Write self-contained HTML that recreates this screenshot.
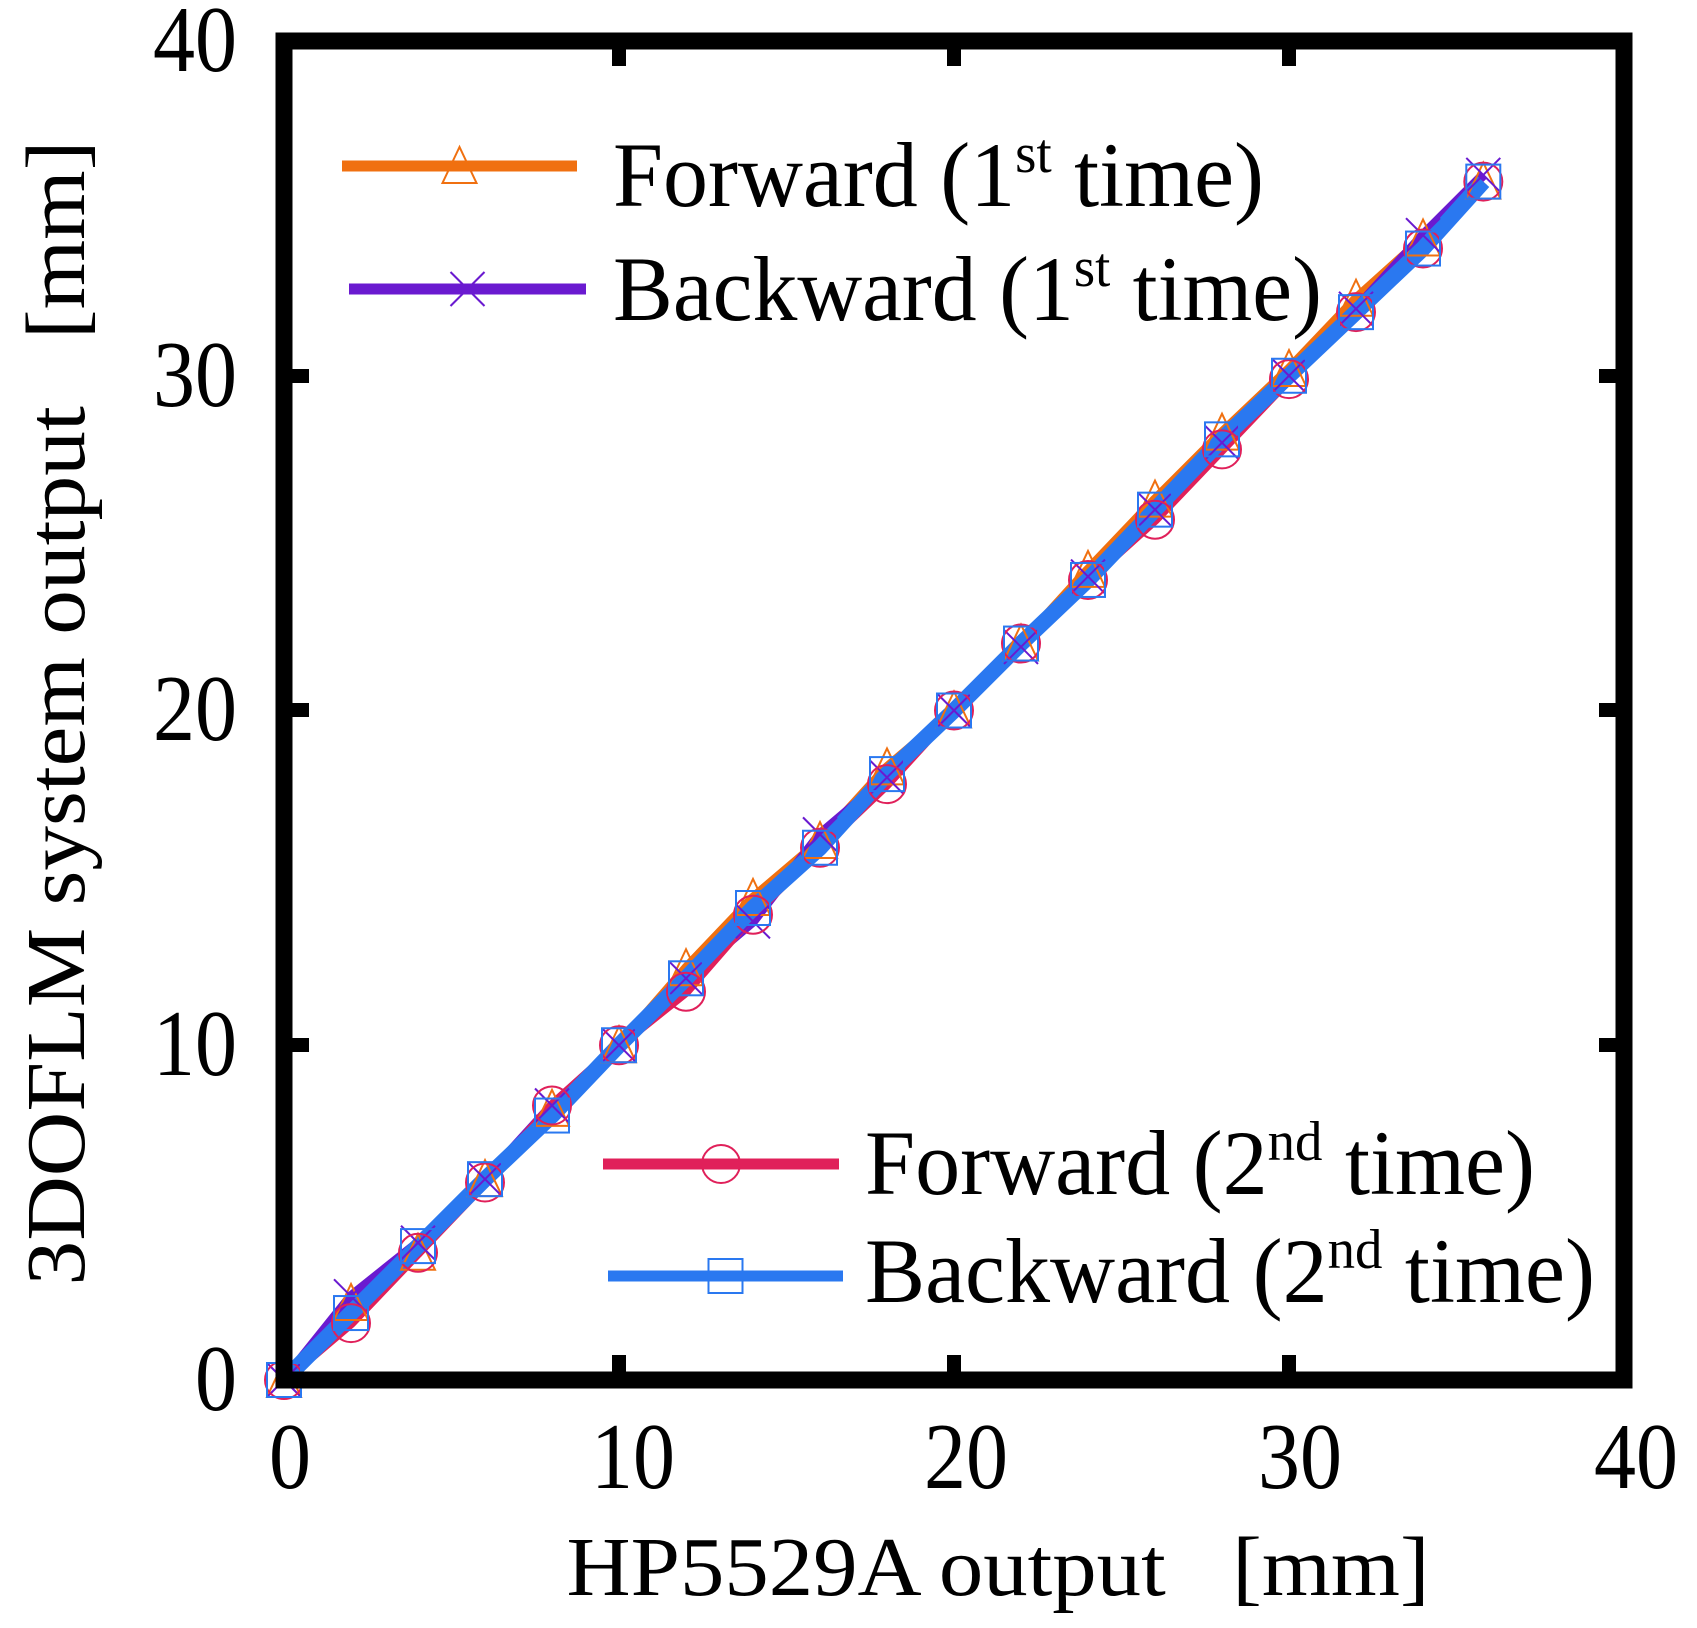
<!DOCTYPE html>
<html><head><meta charset="utf-8"><style>
html,body{margin:0;padding:0;background:#fff;}
svg{display:block;font-family:"Liberation Serif",serif;}
</style></head><body>
<svg id="s" width="1697" height="1628" viewBox="0 0 1697 1628" xmlns="http://www.w3.org/2000/svg">
<g id="data"></g>
<rect x="284" y="41" width="1340" height="1339" fill="none" stroke="#000" stroke-width="17"/>
<g stroke="#000" stroke-width="14">
<line x1="619" y1="1380" x2="619" y2="1355"/><line x1="954" y1="1380" x2="954" y2="1355"/><line x1="1289" y1="1380" x2="1289" y2="1355"/>
<line x1="619" y1="41" x2="619" y2="66"/><line x1="954" y1="41" x2="954" y2="66"/><line x1="1289" y1="41" x2="1289" y2="66"/>
<line x1="284" y1="1045" x2="309" y2="1045"/><line x1="284" y1="710" x2="309" y2="710"/><line x1="284" y1="376" x2="309" y2="376"/>
<line x1="1624" y1="1045" x2="1599" y2="1045"/><line x1="1624" y1="710" x2="1599" y2="710"/><line x1="1624" y1="376" x2="1599" y2="376"/>
</g>
<g font-size="94" text-anchor="middle">
<text x="290" y="1488" textLength="42" lengthAdjust="spacingAndGlyphs">0</text>
<text x="633" y="1488" textLength="84" lengthAdjust="spacingAndGlyphs">10</text>
<text x="966" y="1488" textLength="84" lengthAdjust="spacingAndGlyphs">20</text>
<text x="1300" y="1488" textLength="84" lengthAdjust="spacingAndGlyphs">30</text>
<text x="1636" y="1488" textLength="84" lengthAdjust="spacingAndGlyphs">40</text>
</g>
<g font-size="94" text-anchor="end">
<text x="237" y="1410" textLength="42" lengthAdjust="spacingAndGlyphs">0</text>
<text x="237" y="1075" textLength="84" lengthAdjust="spacingAndGlyphs">10</text>
<text x="237" y="740" textLength="84" lengthAdjust="spacingAndGlyphs">20</text>
<text x="237" y="406" textLength="84" lengthAdjust="spacingAndGlyphs">30</text>
<text x="237" y="71" textLength="84" lengthAdjust="spacingAndGlyphs">40</text>
</g>
<text x="998" y="1595" font-size="84" text-anchor="middle" textLength="863" lengthAdjust="spacingAndGlyphs" xml:space="preserve">HP5529A output   [mm]</text>
<text transform="translate(84,713) rotate(-90)" font-size="84" text-anchor="middle" textLength="1145" lengthAdjust="spacingAndGlyphs" xml:space="preserve">3DOFLM system output   [mm]</text>
<g font-size="92">
<text x="613" y="206" textLength="651" lengthAdjust="spacingAndGlyphs">Forward (1<tspan font-size="56" dy="-34">st</tspan><tspan dy="34"> time)</tspan></text>
<text x="613" y="320" textLength="709" lengthAdjust="spacingAndGlyphs">Backward (1<tspan font-size="56" dy="-34">st</tspan><tspan dy="34"> time)</tspan></text>
<text x="865" y="1194" textLength="670" lengthAdjust="spacingAndGlyphs">Forward (2<tspan font-size="56" dy="-34">nd</tspan><tspan dy="34"> time)</tspan></text>
<text x="865" y="1302" textLength="730" lengthAdjust="spacingAndGlyphs">Backward (2<tspan font-size="56" dy="-34">nd</tspan><tspan dy="34"> time)</tspan></text>
</g>
<g id="leg"></g>
</svg>
<script>
var NS="http://www.w3.org/2000/svg";
function el(p,t,a){var e=document.createElementNS(NS,t);for(var k in a)e.setAttribute(k,a[k]);p.appendChild(e);return e;}
var xs=[0,2,4,6,8,10,12,14,16,18,20,22,24,26,28,30,32,34,35.8];
function X(v){return 284+v*33.5;} function Y(v){return 1380-v*33.475;}
var ser=[
 {c:"#f07010",m:"tri",d:[0,0.3,-0.2,0,0.1,0,0.3,0.4,0.1,0.3,0,0,0.2,0.3,0.3,0.2,0.3,0.1,0]},
 {c:"#6a1ad0",m:"x",d:[0,0.5,0.1,0,0.2,0,0,-0.3,0.3,0,0,-0.1,0,0,0,0,0,0.2,0.2]},
 {c:"#e0205a",m:"circ",d:[0,-0.3,-0.2,-0.1,0.2,0,-0.4,-0.1,-0.1,-0.2,0,0,-0.1,-0.3,-0.2,-0.1,-0.1,-0.2,0]},
 {c:"#2a78f0",m:"sq",d:[0,0,0,0,-0.1,0,0,0.1,-0.1,0.1,0,0,-0.1,0,0.1,0,-0.1,-0.2,0]}
];
var g=document.getElementById("data");
function marker(p,m,c,x,y){
 var s=17;
 if(m=="tri")el(p,"polygon",{points:(x)+","+(y-s-2)+" "+(x-s)+","+(y+s)+" "+(x+s)+","+(y+s),fill:"none",stroke:c,"stroke-width":2});
 else if(m=="x"){el(p,"line",{x1:x-s,y1:y-s,x2:x+s,y2:y+s,stroke:c,"stroke-width":2});el(p,"line",{x1:x-s,y1:y+s,x2:x+s,y2:y-s,stroke:c,"stroke-width":2});}
 else if(m=="circ")el(p,"circle",{cx:x,cy:y,r:s+2,fill:"none",stroke:c,"stroke-width":2});
 else el(p,"rect",{x:x-s,y:y-s,width:2*s,height:2*s,fill:"none",stroke:c,"stroke-width":2});
}
ser.forEach(function(s){
 var pts=xs.map(function(v,i){return X(v)+","+Y(v+s.d[i]);}).join(" ");
 el(g,"polyline",{points:pts,fill:"none",stroke:s.c,"stroke-width":s.m=="sq"?16:10,"stroke-linejoin":"round"});
});
ser.forEach(function(s){xs.forEach(function(v,i){marker(g,s.m,s.c,X(v),Y(v+s.d[i]));});});
var L=document.getElementById("leg");
var lg=[[342,577,166,0],[349,586,289,1],[603,839,1164,2],[608,843,1276,3]];
lg.forEach(function(l){var s=ser[l[3]];el(L,"line",{x1:l[0],y1:l[2],x2:l[1],y2:l[2],stroke:s.c,"stroke-width":11});marker(L,s.m,s.c,(l[0]+l[1])/2,l[2]);});
</script>
</body></html>
